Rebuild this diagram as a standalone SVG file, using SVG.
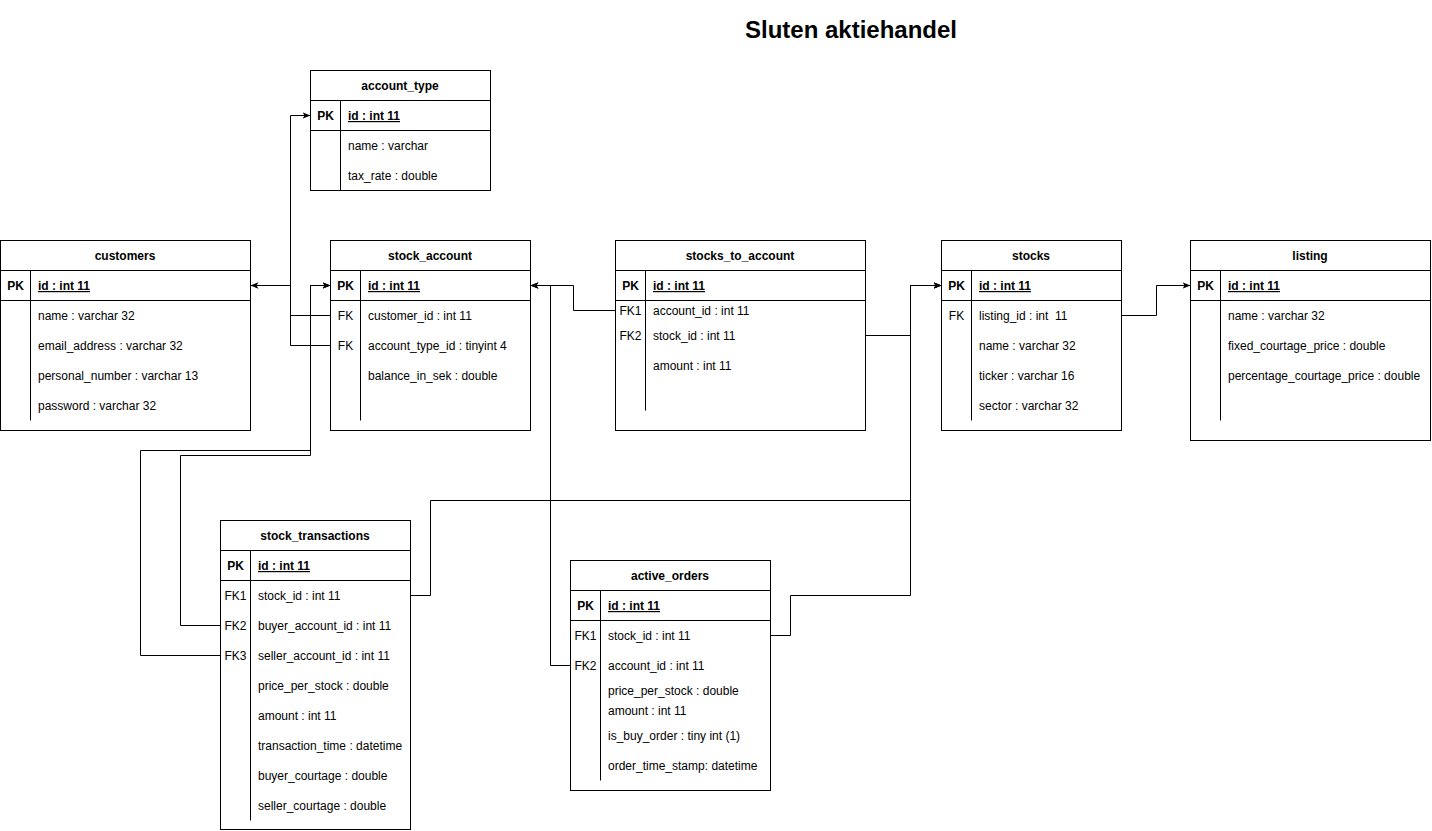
<svg xmlns="http://www.w3.org/2000/svg" width="1432" height="831" viewBox="0 0 1432 831">
<style>
text{font-family:"Liberation Sans",Arial,sans-serif;font-size:12px;fill:#000}
.h{font-weight:bold;text-anchor:middle}
.k{font-weight:bold;text-anchor:middle}
.fk{text-anchor:middle}
.pk{font-weight:bold;text-decoration:underline}
.box{fill:#fff;stroke:#000;stroke-width:1}
.ln{stroke:#000;stroke-width:1;fill:none}
.c{stroke:#000;stroke-width:1;fill:none;marker-end:url(#arr)}
.title{font-size:24px;font-weight:bold;text-anchor:middle}
</style>
<defs>
<marker id="arr" viewBox="0 0 10 10" refX="10" refY="5" markerWidth="8" markerHeight="8" markerUnits="userSpaceOnUse" orient="auto">
<path d="M0,1 L10,5 L0,9 L2.5,5 Z" fill="#000"/>
</marker>
</defs>
<rect width="1432" height="831" fill="#fff"/>
<text class="title" x="851" y="38">Sluten aktiehandel</text>

<g id="connectors">
<path class="c" d="M330.5,315.5 H290.5 V285.5 H250.5"/>
<path class="c" d="M330.5,345.5 H290.5 V115.5 H310.5"/>
<path class="c" d="M220.5,625.5 H180.5 V455.5 H310.5 V285.5 H330.5"/>
<path class="c" d="M220.5,655.5 H140.5 V450.5 H310.5 V285.5 H330.5"/>
<path class="c" d="M570.5,665.5 H550.5 V285.5 H530.5"/>
<path class="c" d="M615.5,310.5 H573.5 V285.5 H530.5"/>
<path class="c" d="M865.5,335.5 H910.5 V285.5 H941.5"/>
<path class="c" d="M410.5,595.5 H430.5 V500.5 H910.5 V285.5 H941.5"/>
<path class="c" d="M770.5,635.5 H790.5 V595.5 H910.5 V285.5 H941.5"/>
<path class="c" d="M1121.5,315.5 H1156.5 V285.5 H1190.5"/>
</g>

<g id="account_type">
<rect class="box" x="310.5" y="70.5" width="180" height="120"/>
<path class="ln" d="M310.5,100.5 H490.5 M310.5,130.5 H490.5 M340.5,100.5 V190.5"/>
<text class="h" x="400" y="90">account_type</text>
<text class="k" x="325.5" y="120">PK</text>
<text class="pk" x="348" y="120">id : int 11</text>
<text x="348" y="150">name : varchar</text>
<text x="348" y="180">tax_rate : double</text>
</g>

<g id="customers">
<rect class="box" x="0.5" y="240.5" width="250" height="190"/>
<path class="ln" d="M0.5,270.5 H250.5 M0.5,300.5 H250.5 M30.5,270.5 V420.5"/>
<text class="h" x="125" y="260">customers</text>
<text class="k" x="15.5" y="290">PK</text>
<text class="pk" x="38" y="290">id : int 11</text>
<text x="38" y="320">name : varchar 32</text>
<text x="38" y="350">email_address : varchar 32</text>
<text x="38" y="380">personal_number : varchar 13</text>
<text x="38" y="410">password : varchar 32</text>
</g>

<g id="stock_account">
<rect class="box" x="330.5" y="240.5" width="200" height="190"/>
<path class="ln" d="M330.5,270.5 H530.5 M330.5,300.5 H530.5 M360.5,270.5 V420.5"/>
<text class="h" x="430" y="260">stock_account</text>
<text class="k" x="345.5" y="290">PK</text>
<text class="pk" x="368" y="290">id : int 11</text>
<text class="fk" x="345.5" y="320">FK</text>
<text x="368" y="320">customer_id : int 11</text>
<text class="fk" x="345.5" y="350">FK</text>
<text x="368" y="350">account_type_id : tinyint 4</text>
<text x="368" y="380">balance_in_sek : double</text>
</g>

<g id="stocks_to_account">
<rect class="box" x="615.5" y="240.5" width="250" height="190"/>
<path class="ln" d="M615.5,270.5 H865.5 M615.5,300.5 H865.5 M645.5,270.5 V410.5"/>
<text class="h" x="740" y="260">stocks_to_account</text>
<text class="k" x="630.5" y="290">PK</text>
<text class="pk" x="653" y="290">id : int 11</text>
<text class="fk" x="630.5" y="315">FK1</text>
<text x="653" y="315">account_id : int 11</text>
<text class="fk" x="630.5" y="340">FK2</text>
<text x="653" y="340">stock_id : int 11</text>
<text x="653" y="370">amount : int 11</text>
</g>

<g id="stocks">
<rect class="box" x="941.5" y="240.5" width="180" height="190"/>
<path class="ln" d="M941.5,270.5 H1121.5 M941.5,300.5 H1121.5 M971.5,270.5 V420.5"/>
<text class="h" x="1031" y="260">stocks</text>
<text class="k" x="956.5" y="290">PK</text>
<text class="pk" x="979" y="290">id : int 11</text>
<text class="fk" x="956.5" y="320">FK</text>
<text x="979" y="320" xml:space="preserve">listing_id : int  11</text>
<text x="979" y="350">name : varchar 32</text>
<text x="979" y="380">ticker : varchar 16</text>
<text x="979" y="410">sector : varchar 32</text>
</g>

<g id="listing">
<rect class="box" x="1190.5" y="240.5" width="240" height="200"/>
<path class="ln" d="M1190.5,270.5 H1430.5 M1190.5,300.5 H1430.5 M1220.5,270.5 V420.5"/>
<text class="h" x="1310" y="260">listing</text>
<text class="k" x="1205.5" y="290">PK</text>
<text class="pk" x="1228" y="290">id : int 11</text>
<text x="1228" y="320">name : varchar 32</text>
<text x="1228" y="350">fixed_courtage_price : double</text>
<text x="1228" y="380">percentage_courtage_price : double</text>
</g>

<g id="stock_transactions">
<rect class="box" x="220.5" y="520.5" width="190" height="309"/>
<path class="ln" d="M220.5,550.5 H410.5 M220.5,580.5 H410.5 M250.5,550.5 V820.5"/>
<text class="h" x="315" y="540">stock_transactions</text>
<text class="k" x="235.5" y="570">PK</text>
<text class="pk" x="258" y="570">id : int 11</text>
<text class="fk" x="235.5" y="600">FK1</text>
<text x="258" y="600">stock_id : int 11</text>
<text class="fk" x="235.5" y="630">FK2</text>
<text x="258" y="630">buyer_account_id : int 11</text>
<text class="fk" x="235.5" y="660">FK3</text>
<text x="258" y="660">seller_account_id : int 11</text>
<text x="258" y="690">price_per_stock : double</text>
<text x="258" y="720">amount : int 11</text>
<text x="258" y="750">transaction_time : datetime</text>
<text x="258" y="780">buyer_courtage : double</text>
<text x="258" y="810">seller_courtage : double</text>
</g>

<g id="active_orders">
<rect class="box" x="570.5" y="560.5" width="200" height="230"/>
<path class="ln" d="M570.5,590.5 H770.5 M570.5,620.5 H770.5 M600.5,590.5 V780.5"/>
<text class="h" x="670" y="580">active_orders</text>
<text class="k" x="585.5" y="610">PK</text>
<text class="pk" x="608" y="610">id : int 11</text>
<text class="fk" x="585.5" y="640">FK1</text>
<text x="608" y="640">stock_id : int 11</text>
<text class="fk" x="585.5" y="670">FK2</text>
<text x="608" y="670">account_id : int 11</text>
<text x="608" y="695">price_per_stock : double</text>
<text x="608" y="715">amount : int 11</text>
<text x="608" y="740">is_buy_order : tiny int (1)</text>
<text x="608" y="770">order_time_stamp: datetime</text>
</g>
</svg>
